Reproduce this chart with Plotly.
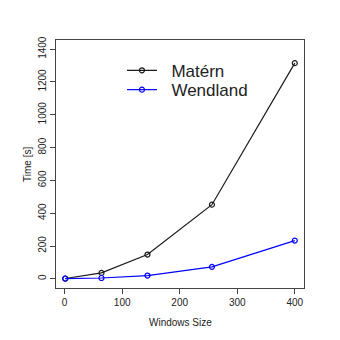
import plotly.graph_objects as go

window_size = [1, 64, 144, 256, 400]
matern = [2, 36, 148, 452, 1315]
wendland = [1, 5, 20, 73, 233]
x_ticks = [0, 100, 200, 300, 400]
y_ticks = [0, 200, 400, 600, 800, 1000, 1200, 1400]

fig = go.Figure()
fig.add_trace(go.Scatter(x=window_size, y=matern, mode="lines+markers", name="\u00a0\u00a0Matérn",
                         legend="legend",
                         line=dict(color="#1a1a1a", width=1.2),
                         marker=dict(symbol="circle-open", size=5, color="#1a1a1a", line=dict(width=1.2))))
fig.add_trace(go.Scatter(x=window_size, y=wendland, mode="lines+markers", name="\u00a0\u00a0Wendland",
                         legend="legend2",
                         line=dict(color="#0000ff", width=1.2),
                         marker=dict(symbol="circle-open", size=5, color="#0000ff", line=dict(width=1.2))))

axis_common = dict(showline=True, mirror=True, linecolor="#444", linewidth=1, automargin=False,
                   ticks="outside", ticklen=5, tickcolor="#444", showgrid=False, zeroline=False,
                   tickfont=dict(family="Liberation Sans", size=10, color="#222"))
leg_common = dict(xanchor="left", yanchor="middle", bgcolor="rgba(0,0,0,0)",
                  font=dict(size=17, family="Liberation Sans", color="#222"), itemwidth=30)
fig.update_layout(
    width=332, height=332, autosize=False,
    margin=dict(l=48, r=36, t=32, b=52, autoexpand=False),
    paper_bgcolor="white", plot_bgcolor="white",
    font=dict(family="Liberation Sans", color="#222"),
    xaxis=dict(range=[-15, 416], tickvals=x_ticks, **axis_common),
    yaxis=dict(range=[-56, 1456], tickvals=y_ticks, tickangle=-90, **axis_common),
    legend=dict(x=0.266, y=0.876, **leg_common),
    legend2=dict(x=0.266, y=0.798, **leg_common),
    showlegend=True,
    annotations=[
        dict(text="Windows Size", xref="paper", yref="paper", x=0.5, y=-0.14,
             xanchor="center", yanchor="middle", showarrow=False,
             font=dict(size=10, family="Liberation Sans", color="#222")),
        dict(text="Time [s]", xref="paper", yref="paper", x=-0.117, y=0.5, textangle=-90,
             xanchor="center", yanchor="middle", showarrow=False,
             font=dict(size=10, family="Liberation Sans", color="#222")),
    ],
)
fig.write_html("out.html")
